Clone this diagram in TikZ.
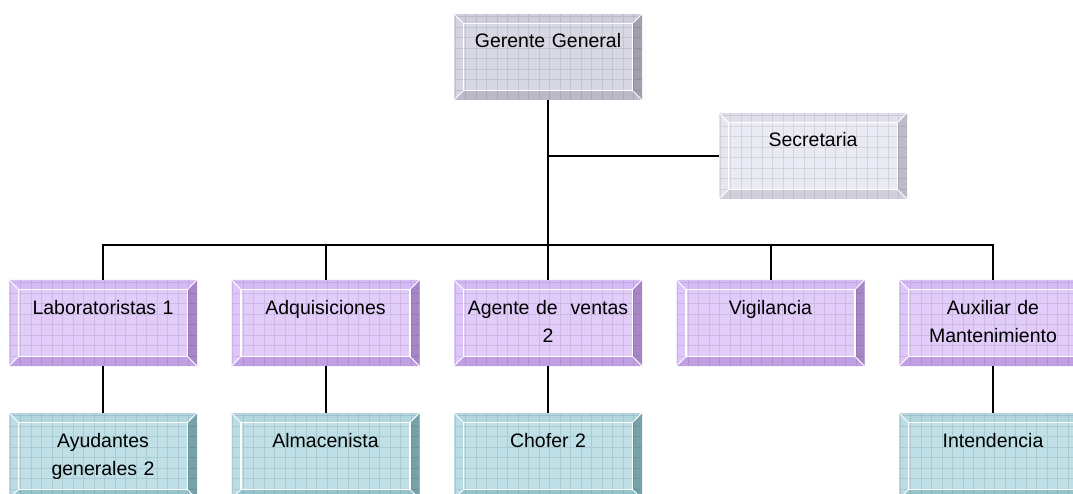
\documentclass[tikz,border=0pt]{standalone}
\usepackage{fontspec}
\setmainfont{Liberation Sans}
\usepackage{tikz}
\usetikzlibrary{positioning}
% box colours: face, top, left, right, bottom
\definecolor{ggface}{RGB}{216,216,228}
\definecolor{ggtop}{RGB}{206,206,220}
\definecolor{ggleft}{RGB}{212,212,226}
\definecolor{ggright}{RGB}{160,160,174}
\definecolor{ggbot}{RGB}{186,186,200}
\definecolor{scface}{RGB}{234,234,244}
\definecolor{sctop}{RGB}{224,224,236}
\definecolor{scleft}{RGB}{230,230,242}
\definecolor{scright}{RGB}{188,188,200}
\definecolor{scbot}{RGB}{208,208,220}
\definecolor{puface}{RGB}{226,204,250}
\definecolor{putop}{RGB}{214,188,246}
\definecolor{puleft}{RGB}{222,198,250}
\definecolor{puright}{RGB}{166,134,198}
\definecolor{pubot}{RGB}{192,160,226}
\definecolor{tlface}{RGB}{190,224,230}
\definecolor{tltop}{RGB}{178,214,222}
\definecolor{tlleft}{RGB}{186,220,228}
\definecolor{tlright}{RGB}{118,162,170}
\definecolor{tlbot}{RGB}{150,196,204}

\begin{document}
\begin{tikzpicture}[
        node distance=180pt and 34.5pt,
        link/.style={line width=2pt},
        box/.style={minimum width=188pt, minimum height=86pt, inner sep=0pt, outer sep=0pt,
            text width=186pt, align=center, text height=34pt, text depth=52pt,
            font=\fontsize{19.5pt}{28pt}\selectfont},
        bevel/.style={box, path picture={
            \path (path picture bounding box.south west) coordinate (bsw)
                  (path picture bounding box.north east) coordinate (bne)
                  (path picture bounding box.north west) coordinate (bnw)
                  (path picture bounding box.south east) coordinate (bse);
            \path ([shift={(9.5pt,9.5pt)}]bsw) coordinate (isw)
                  ([shift={(-9.5pt,-9.5pt)}]bne) coordinate (ine)
                  ([shift={(9.5pt,-9.5pt)}]bnw) coordinate (inw)
                  ([shift={(-9.5pt,9.5pt)}]bse) coordinate (ise);
            \fill[#1face] (bsw) rectangle (bne);
            \fill[#1top] (bnw) -- (bne) -- (ine) -- (inw) -- cycle;
            \fill[#1left] (bnw) -- (bsw) -- (isw) -- (inw) -- cycle;
            \fill[#1right] (bne) -- (bse) -- (ise) -- (ine) -- cycle;
            \fill[#1bot] (bsw) -- (bse) -- (ise) -- (isw) -- cycle;
            \draw[black, opacity=0.09, line width=0.7pt, step=10.5pt] (bsw) grid (bne);
            \draw[white, line width=1.3pt] (isw) rectangle (ine);
            \draw[white, line width=1pt] (bsw) -- (isw) (bse) -- (ise) (bne) -- (ine) (bnw) -- (inw);
        }},
        boss/.style={bevel=gg},
        secr/.style={bevel=sc},
        area/.style={bevel=pu},
        staff/.style={bevel=tl},
    ]
    \clip (0,0) rectangle (1073pt,-494pt);
    \node[boss, anchor=north] (gg) at (548pt,-14pt) {Gerente General};
    \node[secr, below right=13pt and 77pt of gg] (sec) {Secretaria};

    \node[area, below=of gg] (agt) {Agente de~ ventas\\2};
    \node[area, left=of agt] (adq) {Adquisiciones};
    \node[area, left=of adq] (lab) {Laboratoristas 1};
    \node[area, right=of agt] (vig) {Vigilancia};
    \node[area, right=of vig] (aux) {Auxiliar de\\Mantenimiento};

    \node[staff, below=47pt of lab] (ayu) {Ayudantes\\generales 2};
    \node[staff, below=47pt of adq] (alm) {Almacenista};
    \node[staff, below=47pt of agt] (cho) {Chofer 2};
    \node[staff, below=47pt of aux] (int) {Intendencia};

    \coordinate[below=145pt of gg] (bus);
    \draw[link] (gg) -- (agt);
    \draw[link] (sec) -- (sec -| gg);
    \foreach \n in {lab,adq,vig,aux}
        \draw[link] (bus) -| (\n);
    \draw[link] (lab) -- (ayu);
    \draw[link] (adq) -- (alm);
    \draw[link] (agt) -- (cho);
    \draw[link] (aux) -- (int);
\end{tikzpicture}
\end{document}
